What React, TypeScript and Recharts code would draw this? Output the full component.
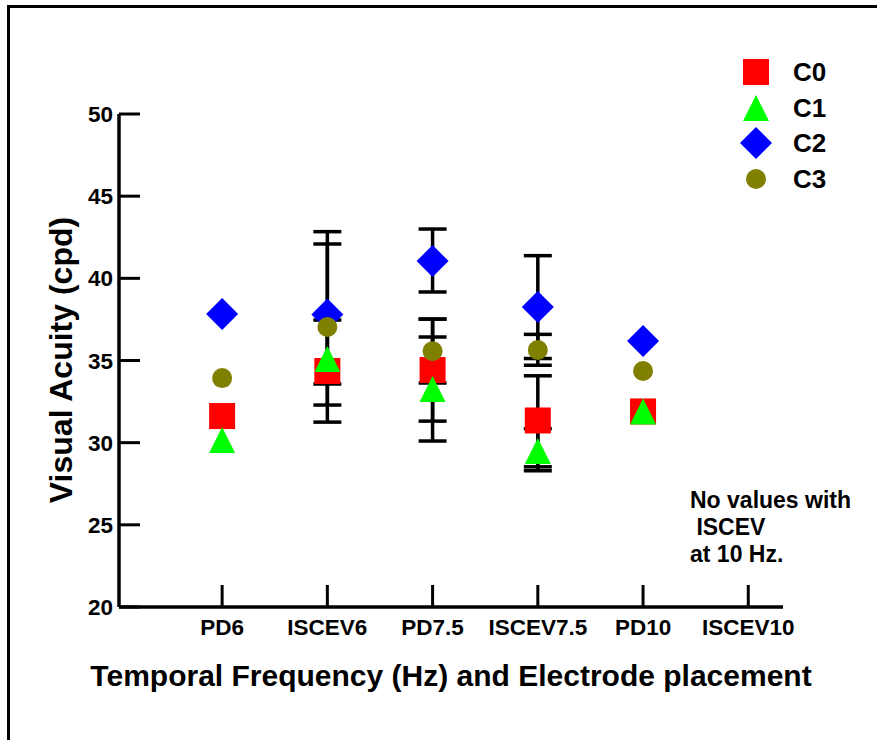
import React from 'react';
import { ScatterChart, Scatter, XAxis, YAxis, ErrorBar, Legend } from 'recharts';

const categories = ['PD6', 'ISCEV6', 'PD7.5', 'ISCEV7.5', 'PD10', 'ISCEV10'];
const yTicks = [20, 25, 30, 35, 40, 45, 50];

const c0Values = [31.62, 34.36, 34.42, 31.35, 31.9, null];
const c0ErrLow = [0, 3.11, 3.11, 2.82, 0, 0];
const c0ErrHigh = [0, 3.1, 3.1, 2.72, 0, 0];

const c1Values = [30.16, 35.09, 33.26, 29.5, 31.9, null];
const c1ErrLow = [0, 0, 3.16, 1.21, 0, 0];
const c1ErrHigh = [0, 0, 3.17, 1.35, 0, 0];

const c2Values = [37.83, 37.8, 41.05, 38.25, 36.18, null];
const c2ErrLow = [0, 4.23, 1.88, 3.13, 0, 0];
const c2ErrHigh = [0, 5.04, 1.95, 3.13, 0, 0];

const c3Values = [33.93, 37.04, 35.57, 35.64, 34.36, null];
const c3ErrLow = [0, 4.75, 1.94, 0.93, 0, 0];
const c3ErrHigh = [0, 5.05, 1.95, 0.95, 0, 0];

const seriesNames = ['C0', 'C1', 'C2', 'C3'];
const seriesColors = ['#FF0000', '#00FF00', '#0000FF', '#808000'];
const seriesShapes = ['square', 'triangle', 'diamond', 'circle'];

const FONT = '"Liberation Sans", Arial, Helvetica, sans-serif';

function build(values: (number | null)[], lo: number[], hi: number[]) {
  const out: any[] = [];
  values.forEach((v, i) => {
    if (v == null) return;
    const e = lo[i] || hi[i] ? [lo[i], hi[i]] : null;
    out.push({ x: i + 1, y: v, err: e, cat: categories[i] });
  });
  return out;
}

const seriesData = [
  build(c0Values, c0ErrLow, c0ErrHigh),
  build(c1Values, c1ErrLow, c1ErrHigh),
  build(c2Values, c2ErrLow, c2ErrHigh),
  build(c3Values, c3ErrLow, c3ErrHigh),
];

function Marker({ kind, cx, cy, fill }: { kind: string; cx: number; cy: number; fill: string }) {
  if (kind === 'square') return <rect x={cx - 13} y={cy - 13} width={26} height={26} fill={fill} />;
  if (kind === 'triangle')
    return <polygon points={`${cx},${cy - 13} ${cx + 13},${cy + 13} ${cx - 13},${cy + 13}`} fill={fill} />;
  if (kind === 'diamond')
    return <polygon points={`${cx},${cy - 16} ${cx + 16},${cy} ${cx},${cy + 16} ${cx - 16},${cy}`} fill={fill} />;
  return <circle cx={cx} cy={cy} r={10} fill={fill} />;
}

const XTick = (props: any) => {
  const { x, y, payload } = props;
  return (
    <g>
      <line x1={x} y1={y} x2={x} y2={y - 22} stroke="#000" strokeWidth={3} />
      <text x={x} y={y + 28} textAnchor="middle" fontFamily={FONT} fontWeight="bold" fontSize={22.5} fill="#000">
        {categories[payload.value - 1]}
      </text>
    </g>
  );
};

const YTick = (props: any) => {
  const { x, y, payload } = props;
  return (
    <g>
      <line x1={x} y1={y} x2={x + 21} y2={y} stroke="#000" strokeWidth={3} />
      <text x={x - 6} y={y + 8} textAnchor="end" fontFamily={FONT} fontWeight="bold" fontSize={22.5} fill="#000">
        {payload.value}
      </text>
    </g>
  );
};

const LegendContent = () => (
  <div style={{ fontFamily: FONT, fontWeight: 'bold', fontSize: 26, color: '#000' }}>
    {seriesNames.map((n, i) => (
      <div key={n} style={{ display: 'flex', alignItems: 'center', height: 35.7 }}>
        <svg width={34} height={34} style={{ display: 'block' }}>
          <Marker kind={seriesShapes[i]} cx={17} cy={17} fill={seriesColors[i]} />
        </svg>
        <span style={{ marginLeft: 20, lineHeight: '30px' }}>{n}</span>
      </div>
    ))}
  </div>
);

export default function App() {
  return (
    <div style={{ position: 'absolute', left: 0, top: 0, width: 877, height: 740, background: '#fff', overflow: 'hidden' }}>
      <div
        style={{
          position: 'absolute',
          left: 7,
          top: 5,
          width: 900,
          height: 800,
          borderLeft: '3px solid #000',
          borderTop: '3px solid #000',
        }}
      />
      <div style={{ position: 'absolute', left: 0, top: 0 }}>
        <ScatterChart width={877} height={740} margin={{ top: 114, right: 94, bottom: 93, left: 59 }}>
          <XAxis
            type="number"
            dataKey="x"
            domain={[0.02, 6.33]}
            allowDataOverflow
            ticks={[1, 2, 3, 4, 5, 6]}
            interval={0}
            height={40}
            tickSize={0}
            tickMargin={0}
            tickLine={false}
            tick={<XTick />}
            axisLine={{ stroke: '#000', strokeWidth: 3.5 }}
            label={{
              value: 'Temporal Frequency (Hz) and Electrode placement',
              position: 'bottom',
              offset: 18,
              style: { fontFamily: FONT, fontWeight: 'bold', fontSize: 30, fill: '#000' },
            }}
          />
          <YAxis
            type="number"
            dataKey="y"
            domain={[20, 50]}
            allowDataOverflow
            ticks={yTicks}
            interval={0}
            width={60}
            tickSize={0}
            tickMargin={0}
            tickLine={false}
            tick={<YTick />}
            axisLine={{ stroke: '#000', strokeWidth: 3.5 }}
            label={{
              content: () => (
                <text
                  x={72}
                  y={360}
                  transform="rotate(-90 72 360)"
                  textAnchor="middle"
                  fontFamily={FONT}
                  fontWeight="bold"
                  fontSize={32}
                  fill="#000"
                >
                  Visual Acuity (cpd)
                </text>
              ),
            }}
          />
          {seriesData.map((d, i) => (
            <Scatter
              key={seriesNames[i]}
              name={seriesNames[i]}
              data={d}
              fill={seriesColors[i]}
              isAnimationActive={false}
              shape={(p: any) => <Marker kind={seriesShapes[i]} cx={p.cx} cy={p.cy} fill={seriesColors[i]} />}
            >
              <ErrorBar dataKey="err" direction="y" width={14} stroke="#000" strokeWidth={3.5} />
            </Scatter>
          ))}
          <Legend
            layout="vertical"
            align="center"
            verticalAlign="middle"
            content={<LegendContent />}
            wrapperStyle={{ left: 739, top: 54, width: 130, height: 150 }}
          />
        </ScatterChart>
      </div>
      <div
        style={{
          position: 'absolute',
          left: 690,
          top: 487,
          fontFamily: FONT,
          fontWeight: 'bold',
          fontSize: 23,
          lineHeight: '27px',
          color: '#000',
          whiteSpace: 'pre',
        }}
      >
        {'No values with\n ISCEV\nat 10 Hz.'}
      </div>
    </div>
  );
}
